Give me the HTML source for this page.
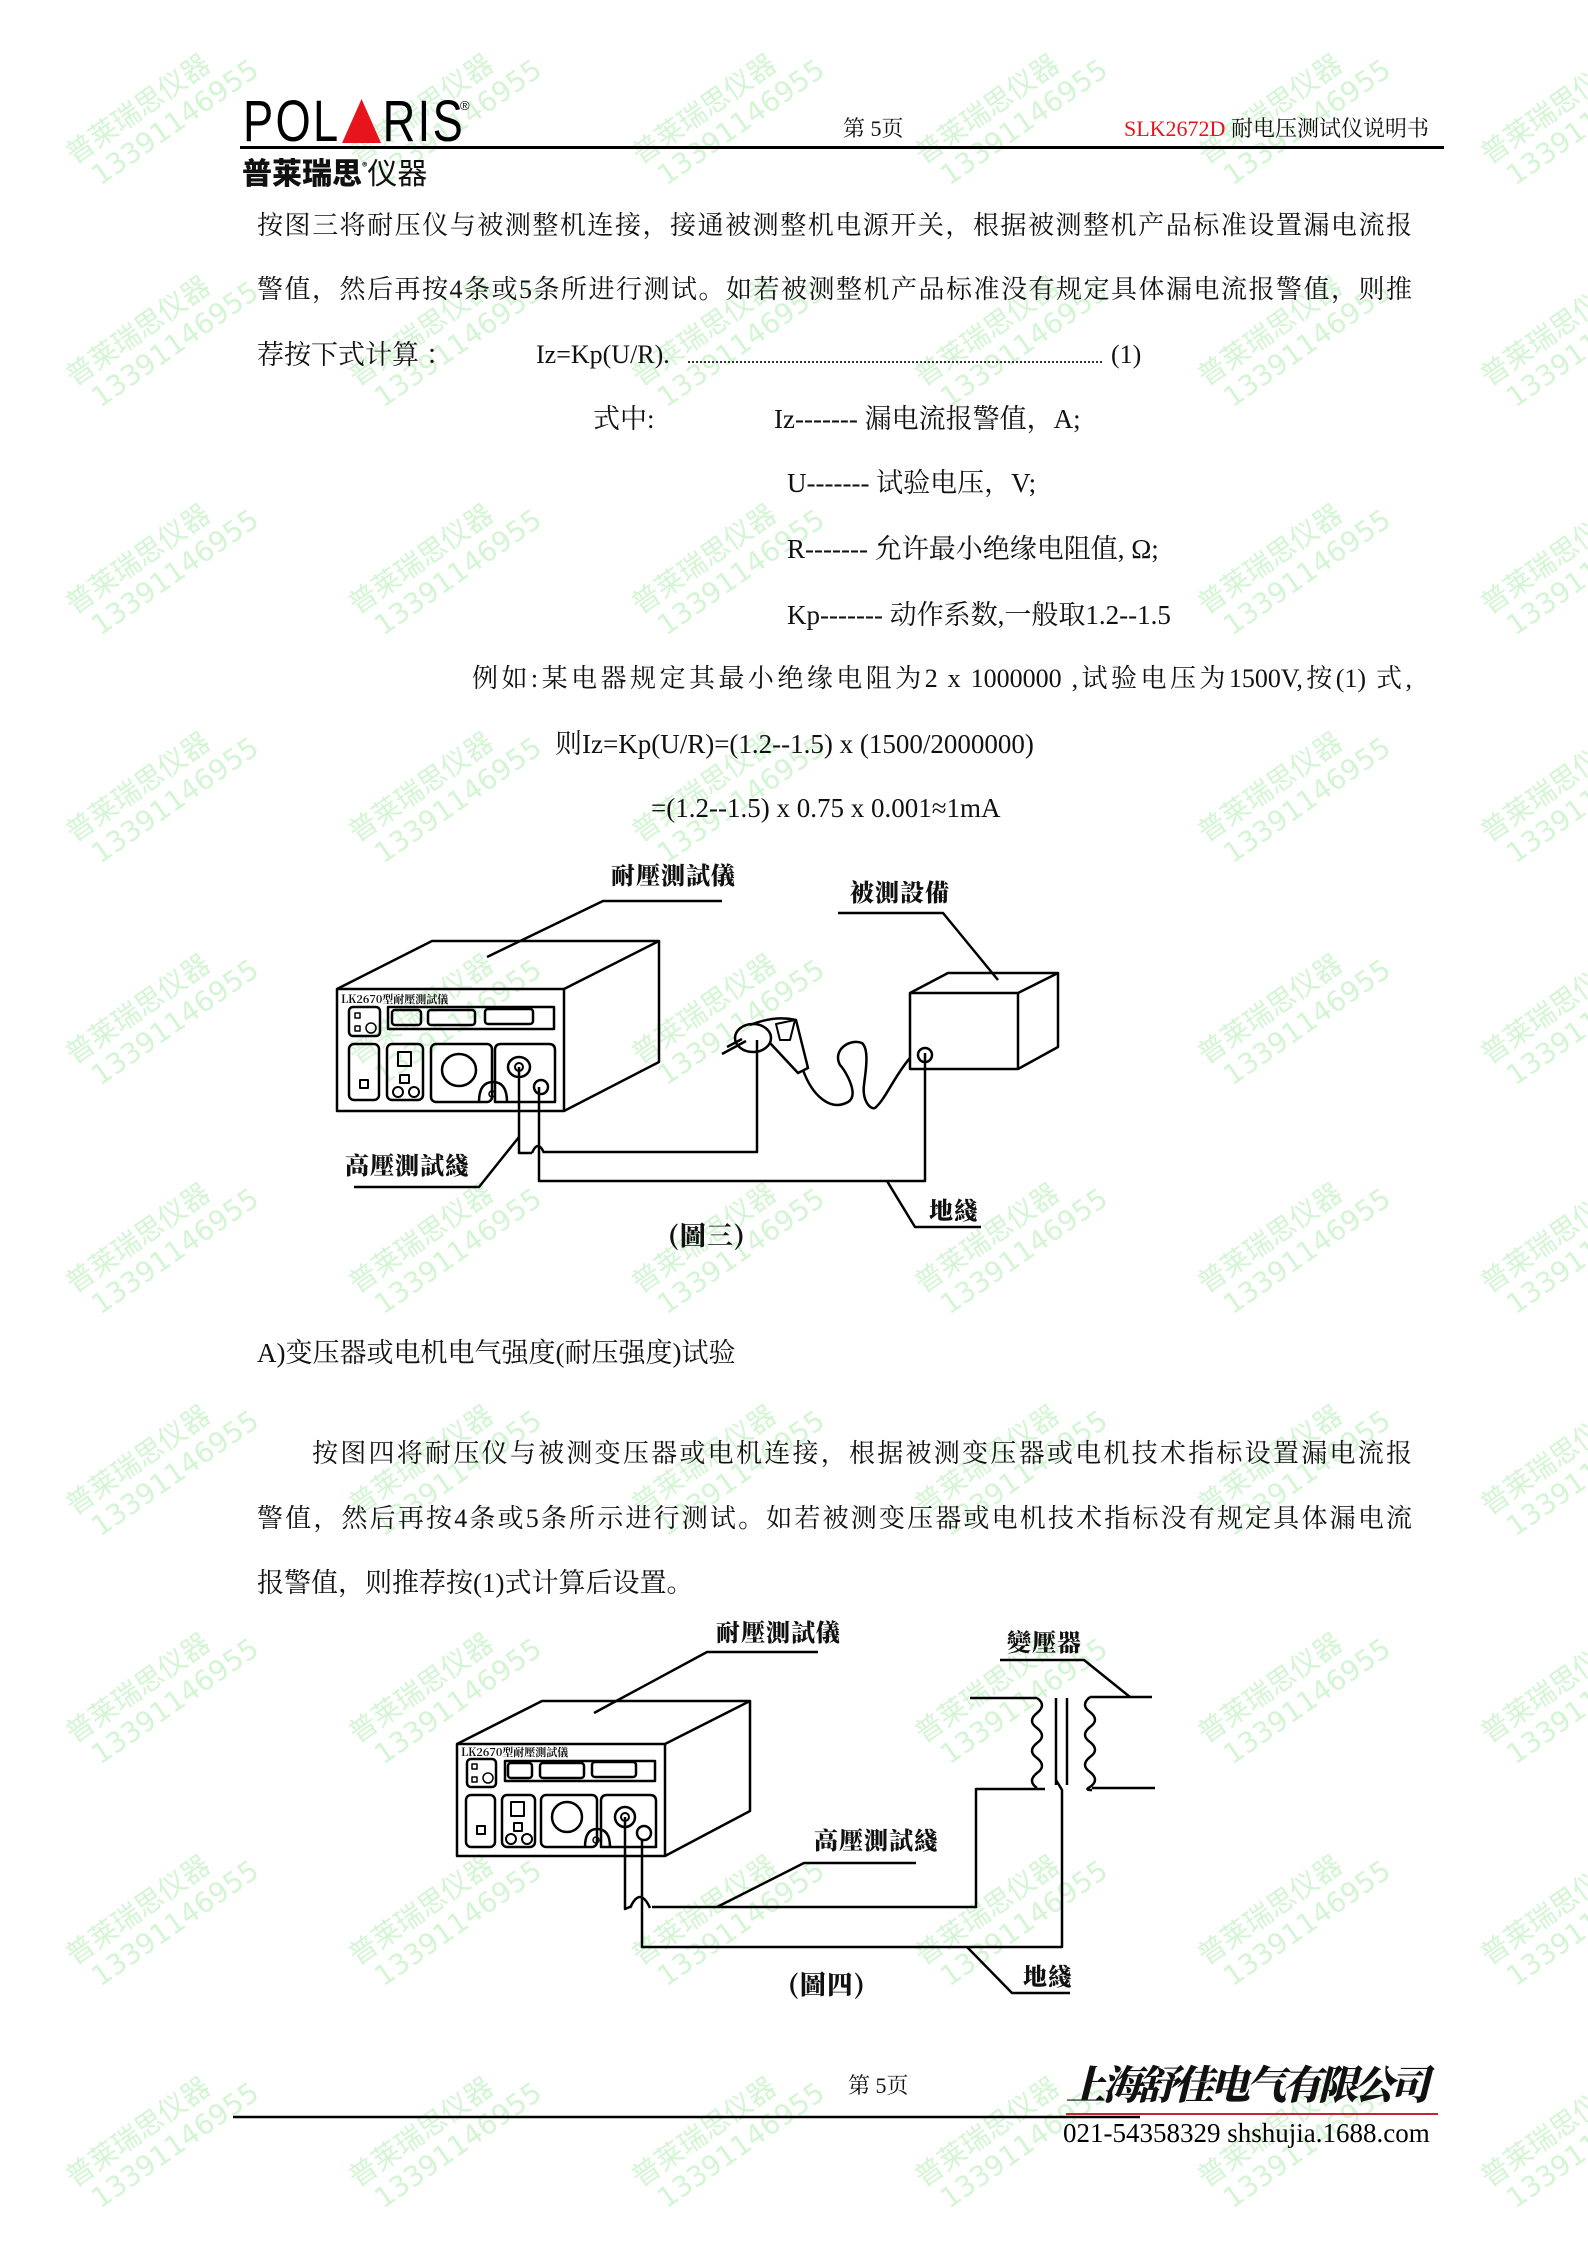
<!DOCTYPE html>
<html><head><meta charset="utf-8"><style>
html,body{margin:0;padding:0;background:#fff}
#p{position:relative;width:1588px;height:2245px;overflow:hidden;background:#fff;font-family:"Liberation Serif","Noto Serif CJK SC",serif;color:#111}
.t{position:absolute;white-space:nowrap;font-size:27px;line-height:40px;font-family:"Liberation Serif","Noto Serif CJK SC",serif}
.j{text-align:justify;text-align-last:justify;white-space:nowrap;font-size:26px}
.wm{position:absolute;color:#d4f5d4;font-family:"DejaVu Sans","Noto Sans CJK SC",sans-serif;font-size:28px;line-height:32px;transform:rotate(-35deg);white-space:nowrap;text-align:left}
.lb{position:absolute;font-family:"Noto Serif CJK SC",serif;font-weight:900;font-size:24px;line-height:26px;letter-spacing:1px;white-space:nowrap}
svg{position:absolute;left:0;top:0}
</style></head><body><div id="p">

<div class="wm" style="left:60px;top:80px">普莱瑞思仪器<br>&nbsp;13391146955</div>
<div class="wm" style="left:343px;top:80px">普莱瑞思仪器<br>&nbsp;13391146955</div>
<div class="wm" style="left:626px;top:80px">普莱瑞思仪器<br>&nbsp;13391146955</div>
<div class="wm" style="left:909px;top:80px">普莱瑞思仪器<br>&nbsp;13391146955</div>
<div class="wm" style="left:1192px;top:80px">普莱瑞思仪器<br>&nbsp;13391146955</div>
<div class="wm" style="left:1475px;top:80px">普莱瑞思仪器<br>&nbsp;13391146955</div>
<div class="wm" style="left:60px;top:302px">普莱瑞思仪器<br>&nbsp;13391146955</div>
<div class="wm" style="left:343px;top:302px">普莱瑞思仪器<br>&nbsp;13391146955</div>
<div class="wm" style="left:626px;top:302px">普莱瑞思仪器<br>&nbsp;13391146955</div>
<div class="wm" style="left:909px;top:302px">普莱瑞思仪器<br>&nbsp;13391146955</div>
<div class="wm" style="left:1192px;top:302px">普莱瑞思仪器<br>&nbsp;13391146955</div>
<div class="wm" style="left:1475px;top:302px">普莱瑞思仪器<br>&nbsp;13391146955</div>
<div class="wm" style="left:60px;top:530px">普莱瑞思仪器<br>&nbsp;13391146955</div>
<div class="wm" style="left:343px;top:530px">普莱瑞思仪器<br>&nbsp;13391146955</div>
<div class="wm" style="left:626px;top:530px">普莱瑞思仪器<br>&nbsp;13391146955</div>
<div class="wm" style="left:1192px;top:530px">普莱瑞思仪器<br>&nbsp;13391146955</div>
<div class="wm" style="left:1475px;top:530px">普莱瑞思仪器<br>&nbsp;13391146955</div>
<div class="wm" style="left:60px;top:758px">普莱瑞思仪器<br>&nbsp;13391146955</div>
<div class="wm" style="left:343px;top:758px">普莱瑞思仪器<br>&nbsp;13391146955</div>
<div class="wm" style="left:626px;top:758px">普莱瑞思仪器<br>&nbsp;13391146955</div>
<div class="wm" style="left:1192px;top:758px">普莱瑞思仪器<br>&nbsp;13391146955</div>
<div class="wm" style="left:1475px;top:758px">普莱瑞思仪器<br>&nbsp;13391146955</div>
<div class="wm" style="left:60px;top:980px">普莱瑞思仪器<br>&nbsp;13391146955</div>
<div class="wm" style="left:343px;top:980px">普莱瑞思仪器<br>&nbsp;13391146955</div>
<div class="wm" style="left:626px;top:980px">普莱瑞思仪器<br>&nbsp;13391146955</div>
<div class="wm" style="left:1192px;top:980px">普莱瑞思仪器<br>&nbsp;13391146955</div>
<div class="wm" style="left:1475px;top:980px">普莱瑞思仪器<br>&nbsp;13391146955</div>
<div class="wm" style="left:60px;top:1209px">普莱瑞思仪器<br>&nbsp;13391146955</div>
<div class="wm" style="left:343px;top:1209px">普莱瑞思仪器<br>&nbsp;13391146955</div>
<div class="wm" style="left:626px;top:1209px">普莱瑞思仪器<br>&nbsp;13391146955</div>
<div class="wm" style="left:909px;top:1209px">普莱瑞思仪器<br>&nbsp;13391146955</div>
<div class="wm" style="left:1192px;top:1209px">普莱瑞思仪器<br>&nbsp;13391146955</div>
<div class="wm" style="left:1475px;top:1209px">普莱瑞思仪器<br>&nbsp;13391146955</div>
<div class="wm" style="left:60px;top:1431px">普莱瑞思仪器<br>&nbsp;13391146955</div>
<div class="wm" style="left:343px;top:1431px">普莱瑞思仪器<br>&nbsp;13391146955</div>
<div class="wm" style="left:626px;top:1431px">普莱瑞思仪器<br>&nbsp;13391146955</div>
<div class="wm" style="left:909px;top:1431px">普莱瑞思仪器<br>&nbsp;13391146955</div>
<div class="wm" style="left:1192px;top:1431px">普莱瑞思仪器<br>&nbsp;13391146955</div>
<div class="wm" style="left:1475px;top:1431px">普莱瑞思仪器<br>&nbsp;13391146955</div>
<div class="wm" style="left:60px;top:1659px">普莱瑞思仪器<br>&nbsp;13391146955</div>
<div class="wm" style="left:343px;top:1659px">普莱瑞思仪器<br>&nbsp;13391146955</div>
<div class="wm" style="left:909px;top:1659px">普莱瑞思仪器<br>&nbsp;13391146955</div>
<div class="wm" style="left:1192px;top:1659px">普莱瑞思仪器<br>&nbsp;13391146955</div>
<div class="wm" style="left:1475px;top:1659px">普莱瑞思仪器<br>&nbsp;13391146955</div>
<div class="wm" style="left:60px;top:1881px">普莱瑞思仪器<br>&nbsp;13391146955</div>
<div class="wm" style="left:343px;top:1881px">普莱瑞思仪器<br>&nbsp;13391146955</div>
<div class="wm" style="left:626px;top:1881px">普莱瑞思仪器<br>&nbsp;13391146955</div>
<div class="wm" style="left:909px;top:1881px">普莱瑞思仪器<br>&nbsp;13391146955</div>
<div class="wm" style="left:1192px;top:1881px">普莱瑞思仪器<br>&nbsp;13391146955</div>
<div class="wm" style="left:1475px;top:1881px">普莱瑞思仪器<br>&nbsp;13391146955</div>
<div class="wm" style="left:60px;top:2103px">普莱瑞思仪器<br>&nbsp;13391146955</div>
<div class="wm" style="left:343px;top:2103px">普莱瑞思仪器<br>&nbsp;13391146955</div>
<div class="wm" style="left:626px;top:2103px">普莱瑞思仪器<br>&nbsp;13391146955</div>
<div class="wm" style="left:909px;top:2103px">普莱瑞思仪器<br>&nbsp;13391146955</div>
<div class="wm" style="left:1192px;top:2103px">普莱瑞思仪器<br>&nbsp;13391146955</div>
<div class="wm" style="left:1475px;top:2103px">普莱瑞思仪器<br>&nbsp;13391146955</div>

<!-- header -->
<div style="position:absolute;left:243px;top:96px;font-family:'Liberation Sans',sans-serif;font-size:58px;line-height:52px;transform:scaleX(0.78);transform-origin:0 0;color:#000;letter-spacing:3px;white-space:nowrap">POL<span style="display:inline-block;width:0;height:0;border-left:25px solid transparent;border-right:25px solid transparent;border-bottom:44px solid #e8141b;vertical-align:-2px;margin:0 2px"></span>RIS</div>
<div style="position:absolute;left:460px;top:98px;font-size:13px;font-family:'Liberation Sans',sans-serif">®</div>
<div style="position:absolute;left:240px;top:146px;width:1204px;height:3px;background:#000"></div>
<div style="position:absolute;left:242px;top:150px;font-family:'Noto Sans CJK SC',sans-serif;font-weight:900;font-size:30px;line-height:32px;white-space:nowrap">普莱瑞思<span style="font-size:10px;vertical-align:14px">®</span><span style="font-weight:400">仪器</span></div>
<div class="t" style="left:843px;top:109px;font-size:22px">第 5页</div>
<div class="t" style="left:1124px;top:109px;font-size:22px"><span style="color:#e8141b">SLK2672D</span> 耐电压测试仪说明书</div>

<!-- body -->
<div class="t j" style="left:257px;top:206px;width:1155px">按图三将耐压仪与被测整机连接，接通被测整机电源开关，根据被测整机产品标准设置漏电流报</div>
<div class="t j" style="left:257px;top:270px;width:1155px">警值，然后再按4条或5条所进行测试。如若被测整机产品标准没有规定具体漏电流报警值，则推</div>
<div class="t" style="left:257px;top:335px">荐按下式计算 ：</div>
<div class="t" style="left:536px;top:335px;font-size:26px">Iz=Kp(U/R).</div>
<div style="position:absolute;left:688px;top:361px;width:414px;border-top:2px dotted #333"></div>
<div class="t" style="left:1111px;top:335px;font-size:26px">(1)</div>
<div class="t" style="left:593px;top:399px">式中:</div>
<div class="t" style="left:774px;top:399px">Iz------- 漏电流报警值，A;</div>
<div class="t" style="left:787px;top:463px">U------- 试验电压，V;</div>
<div class="t" style="left:787px;top:529px">R------- 允许最小绝缘电阻值, Ω;</div>
<div class="t" style="left:787px;top:595px">Kp------- 动作系数,一般取1.2--1.5</div>
<div class="t j" style="left:472px;top:659px;width:940px">例如:某电器规定其最小绝缘电阻为2 x 1000000 ,试验电压为1500V,按(1) 式,</div>
<div class="t" style="left:555px;top:724px">则Iz=Kp(U/R)=(1.2--1.5) x (1500/2000000)</div>
<div class="t" style="left:651px;top:788px">=(1.2--1.5) x 0.75 x 0.001≈1mA</div>

<div class="t" style="left:257px;top:1333px">A)变压器或电机电气强度(耐压强度)试验</div>
<div class="t j" style="left:312px;top:1434px;width:1100px">按图四将耐压仪与被测变压器或电机连接，根据被测变压器或电机技术指标设置漏电流报</div>
<div class="t j" style="left:257px;top:1499px;width:1155px">警值，然后再按4条或5条所示进行测试。如若被测变压器或电机技术指标没有规定具体漏电流</div>
<div class="t" style="left:257px;top:1563px">报警值，则推荐按(1)式计算后设置。</div>

<!-- figure labels -->
<div class="lb" style="left:611px;top:861px">耐壓測試儀</div>
<div class="lb" style="left:850px;top:878px">被測設備</div>
<div class="lb" style="left:345px;top:1151px">高壓測試綫</div>
<div class="lb" style="left:929px;top:1196px">地綫</div>
<div class="lb" style="left:668px;top:1222px;font-size:26px">(圖三)</div>
<div style="position:absolute;left:341px;top:993px;font-family:'Noto Serif CJK SC',serif;font-weight:700;font-size:11px;line-height:12px;white-space:nowrap">LK2670型耐壓測試儀</div>

<div class="lb" style="left:716px;top:1618px">耐壓測試儀</div>
<div class="lb" style="left:1007px;top:1628px">變壓器</div>
<div class="lb" style="left:814px;top:1826px">高壓測試綫</div>
<div class="lb" style="left:1023px;top:1962px">地綫</div>
<div class="lb" style="left:788px;top:1971px;font-size:26px">(圖四)</div>
<div style="position:absolute;left:461px;top:1746px;font-family:'Noto Serif CJK SC',serif;font-weight:700;font-size:11px;line-height:12px;white-space:nowrap">LK2670型耐壓測試儀</div>

<svg width="1588" height="2245" viewBox="0 0 1588 2245" fill="none" stroke="#000" stroke-width="2.5" stroke-linejoin="round">
<!-- FIG 3 -->
<polyline points="722,901 603,901 487,957"/>
<rect x="337" y="989" width="227" height="122"/>
<polyline points="337,989 432,941 659,941 564,989"/>
<polyline points="659,941 659,1062 564,1111"/>
<rect x="388" y="1007" width="166" height="22"/>
<rect x="392" y="1010" width="29" height="15" rx="3"/>
<rect x="428" y="1010" width="47" height="15" rx="3"/>
<rect x="485" y="1009" width="48" height="15" rx="3"/>
<rect x="349" y="1007" width="31" height="29" rx="4"/>
<rect x="355" y="1013" width="5" height="5" stroke-width="1.5"/><rect x="355" y="1026" width="5" height="5" stroke-width="1.5"/><circle cx="371" cy="1028" r="5" stroke-width="1.5"/>
<rect x="349" y="1044" width="30" height="56" rx="5"/>
<rect x="360" y="1080" width="8" height="8" stroke-width="2"/>
<rect x="387" y="1044" width="36" height="56" rx="5"/>
<rect x="398" y="1052" width="13" height="14" stroke-width="2"/><rect x="400" y="1075" width="9" height="8" stroke-width="2"/>
<circle cx="398" cy="1092" r="5" stroke-width="2"/><circle cx="414" cy="1092" r="5" stroke-width="2"/>
<rect x="431" y="1044" width="61" height="58" rx="5"/>
<ellipse cx="459" cy="1070" rx="17" ry="16"/>
<path d="M495,1102 V1050 q0,-6 6,-6 H549 q6,0 6,6 V1102 Z"/>
<path d="M479,1102 q0,-20 14,-20 q14,0 14,20"/>
<circle cx="492" cy="1094" r="3" stroke-width="1.5"/>
<ellipse cx="519" cy="1067" rx="11" ry="10"/><circle cx="519" cy="1067" r="4" stroke-width="2"/>
<circle cx="541" cy="1087" r="7"/>
<polyline points="519,1067 519,1153 532,1153"/>
<path d="M532,1153 q6,-14 12,0"/>
<polyline points="544,1152 757,1152 757,1040"/>
<polyline points="539,1087 539,1181 925,1181 925,1053"/>
<ellipse cx="753" cy="1038" rx="18" ry="14"/>
<line x1="722" y1="1054" x2="746" y2="1041"/><line x1="727" y1="1047" x2="742" y2="1039"/>
<path d="M750,1025 q25,-10 46,-5 L808,1068 L798,1073 L770,1043"/>
<path d="M776,1024 L795,1020 L790,1040 L780,1040 Z" stroke-width="2"/>
<path d="M803,1070 C812,1095 830,1112 848,1102 C860,1095 845,1070 840,1065 C832,1050 850,1038 862,1043 C870,1050 865,1075 864,1085 C862,1100 870,1110 875,1108 C885,1100 895,1075 910,1058"/>
<rect x="910" y="993" width="108" height="76"/>
<polyline points="910,993 948,973 1058,973 1018,993"/>
<polyline points="1058,973 1058,1047 1018,1069"/>
<circle cx="925" cy="1055" r="7"/>
<polyline points="838,913 943,913 998,980"/>
<polyline points="354,1187 479,1187 519,1137"/>
<polyline points="887,1181 915,1227 981,1227"/>

<!-- FIG 4 -->
<polyline points="818,1652 707,1652 594,1713"/>
<rect x="457" y="1744" width="208" height="112"/>
<polyline points="457,1744 542,1701 750,1701 665,1744"/>
<polyline points="750,1701 750,1811 665,1856"/>
<rect x="505" y="1761" width="150" height="20"/>
<rect x="508" y="1763" width="24" height="15" rx="3"/>
<rect x="540" y="1763" width="44" height="15" rx="3"/>
<rect x="592" y="1762" width="44" height="15" rx="3"/>
<rect x="467" y="1759" width="29" height="28" rx="4"/>
<rect x="472" y="1764" width="5" height="5" stroke-width="1.5"/><rect x="472" y="1777" width="5" height="5" stroke-width="1.5"/><circle cx="488" cy="1778" r="5" stroke-width="1.5"/>
<rect x="466" y="1795" width="29" height="52" rx="5"/>
<rect x="477" y="1826" width="8" height="8" stroke-width="2"/>
<rect x="502" y="1795" width="33" height="52" rx="5"/>
<rect x="511" y="1802" width="13" height="14" stroke-width="2"/><rect x="514" y="1823" width="8" height="8" stroke-width="2"/>
<circle cx="511" cy="1839" r="5" stroke-width="2"/><circle cx="527" cy="1839" r="5" stroke-width="2"/>
<rect x="541" y="1795" width="56" height="52" rx="5"/>
<ellipse cx="567" cy="1817" rx="15" ry="15"/>
<path d="M601,1847 V1801 q0,-6 6,-6 H650 q6,0 6,6 V1847 Z"/>
<path d="M585,1847 q0,-18 12,-18 q13,0 13,18"/>
<circle cx="596" cy="1840" r="3" stroke-width="1.5"/>
<ellipse cx="625" cy="1817" rx="10" ry="10"/><circle cx="625" cy="1817" r="4" stroke-width="2"/>
<circle cx="644" cy="1833" r="7"/>
<polyline points="625,1817 625,1909 632,1906"/>
<path d="M630,1908 q10,-22 20,0"/>
<polyline points="652,1907 976,1907 976,1789 1045,1789"/>
<polyline points="642,1840 642,1947 1062,1947 1062,1790 1056,1780"/>
<polyline points="970,1698 1037,1698"/>
<path d="M1037,1698 q10,7 0,15 q-10,8 0,15 q10,8 0,15 q-10,8 0,15 q10,8 0,15 q-10,8 0,15"/>
<line x1="1056" y1="1698" x2="1056" y2="1785"/><line x1="1067" y1="1698" x2="1067" y2="1785"/>
<path d="M1090,1697 q-10,8 0,15 q10,8 0,15 q-10,8 0,15 q10,8 0,15 q-10,8 0,15 q10,8 0,15 q-6,3 2,3"/>
<polyline points="1090,1697 1152,1697"/>
<polyline points="1092,1788 1155,1788"/>
<polyline points="1000,1660 1084,1660 1130,1697"/>
<polyline points="916,1863 804,1863 717,1907"/>
<polyline points="967,1947 1012,1993 1070,1993"/>

<line x1="233" y1="2117" x2="1140" y2="2117" stroke-width="2.5"/>
<line x1="1066" y1="2114" x2="1438" y2="2114" stroke="#c0282d" stroke-width="2"/>
</svg>

<div class="t" style="left:848px;top:2066px;font-size:22px">第 5页</div>
<div style="position:absolute;left:1066px;top:2056px;width:372px;font-family:'Noto Serif CJK SC',serif;font-weight:900;font-size:40px;line-height:54px;letter-spacing:-4px;white-space:nowrap;font-style:italic">上海舒佳电气有限公司</div>
<div style="position:absolute;left:1063px;top:2116px;font-family:'Liberation Serif',serif;font-size:27px;line-height:34px;white-space:nowrap;color:#000">021-54358329 shshujia.1688.com</div>
</div></body></html>
